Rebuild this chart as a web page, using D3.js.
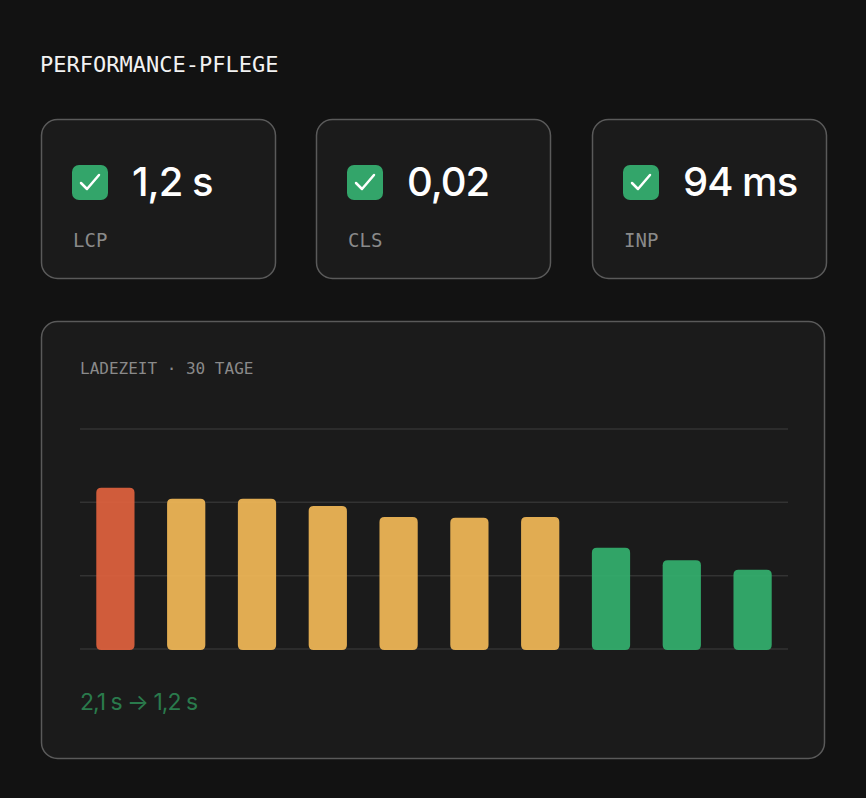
<!DOCTYPE html><html><head><meta charset="utf-8">
<script src="https://cdn.jsdelivr.net/npm/d3@7"></script>
<style>body{margin:0;background:#121212}</style></head><body>
<script>
const metricValues=["1,2 s","0,02","94 ms"];
const metricLabels=["LCP","CLS","INP"];
const days=["1","2","3","4","5","6","7","8","9","10"];
const loadTimes=[2.2,2.05,2.05,1.95,1.8,1.79,1.8,1.38,1.21,1.08];
const barStatus=["bad","warn","warn","warn","warn","warn","warn","good","good","good"];
const gridTicks=[0,1,2,3];
const colors={bad:"#e0623e",warn:"#f2b957",good:"#33b06e"};
const mono="'DejaVu Sans Mono','Liberation Mono',monospace", sans="Inter,'Noto Sans',sans-serif";
const svg=d3.select("body").append("svg").attr("width",866).attr("height",798);
svg.append("rect").attr("width",866).attr("height",798).attr("fill","#121212");
svg.append("text").attr("x",40).attr("y",72).text("PERFORMANCE-PFLEGE").attr("fill","#f2f2f2").attr("font-family",mono).attr("font-size",22);
const cx=d3.scaleOrdinal().domain([0,1,2]).range([41,316,592]);
metricValues.forEach((v,i)=>{
 const g=svg.append("g").attr("transform",`translate(${cx(i)},119)`);
 g.append("rect").attr("x",0.5).attr("y",0.5).attr("width",234).attr("height",159).attr("rx",16).attr("fill","#1b1b1b").attr("stroke","#5a5a5a").attr("stroke-width",1.5);
 g.append("rect").attr("x",31).attr("y",46).attr("width",36).attr("height",35).attr("rx",7).attr("fill","#33a56a");
 g.append("path").attr("d","M40 64 L46 70 L58 56").attr("fill","none").attr("stroke","#fff").attr("stroke-width",2.5).attr("stroke-linecap","round").attr("stroke-linejoin","round");
 g.append("text").attr("x",91).attr("y",77).text(v).attr("fill","#fff").attr("font-family",sans).attr("font-size",40).attr("font-weight",500).attr("letter-spacing",-1);
 g.append("text").attr("x",32).attr("y",128).text(metricLabels[i]).attr("fill","#8a8a8a").attr("font-family",mono).attr("font-size",19);
});
svg.append("rect").attr("x",41.5).attr("y",321.5).attr("width",783).attr("height",437).attr("rx",16).attr("fill","#1b1b1b").attr("stroke","#5a5a5a").attr("stroke-width",1.5);
svg.append("text").attr("x",80).attr("y",374).text("LADEZEIT · 30 TAGE").attr("fill","#8a8a8a").attr("font-family",mono).attr("font-size",16);
const x=d3.scaleBand().domain(days).range([80,788]).paddingInner(0.46).paddingOuter(0.23);
const y=d3.scaleLinear().domain([0,3]).range([649,429]);
svg.append("g").selectAll("line").data(gridTicks).join("line").attr("x1",80).attr("x2",788).attr("y1",d=>y(d)).attr("y2",d=>y(d)).attr("stroke","#333").attr("stroke-width",1.5);
svg.append("g").selectAll("path").data(loadTimes).join("path").attr("fill",(d,i)=>colors[barStatus[i]]).attr("opacity",0.92)
 .attr("d",(d,i)=>{const x0=x(days[i]),w=x.bandwidth(),y0=y(d),y1=y(0)+1,r=5;
  return `M${x0} ${y0+r}Q${x0} ${y0} ${x0+r} ${y0}H${x0+w-r}Q${x0+w} ${y0} ${x0+w} ${y0+r}V${y1-r}Q${x0+w} ${y1} ${x0+w-r} ${y1}H${x0+r}Q${x0} ${y1} ${x0} ${y1-r}Z`;});
svg.append("text").attr("x",80).attr("y",710).text("2,1 s → 1,2 s").attr("fill","#2a7a4c").attr("font-family",sans).attr("font-size",23).attr("letter-spacing",-1);
</script></body></html>
